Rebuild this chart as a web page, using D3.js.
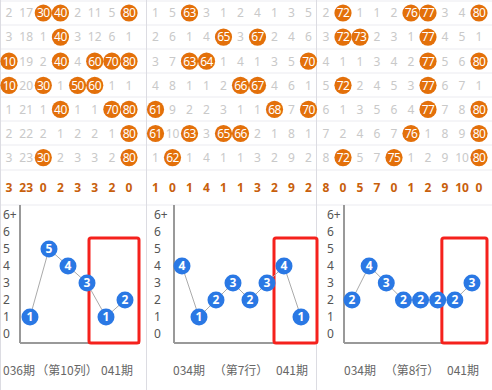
<!DOCTYPE html>
<html>
<head>
<meta charset="utf-8">
<script src="https://cdn.jsdelivr.net/npm/d3@7"></script>
<style>
  body { margin: 0; background: #fff; }
  svg text { font-family: "Noto Sans", "Noto Sans CJK SC", sans-serif; }
</style>
</head>
<body>
<div id="chart"></div>
<script>
// ---- data ----
const p1Grid = [
  [2, 17, 30, 40, 2, 11, 5, 80],
  [3, 18, 1, 40, 3, 12, 6, 1],
  [10, 19, 2, 40, 4, 60, 70, 80],
  [10, 20, 30, 1, 50, 60, 1, 1],
  [1, 21, 1, 40, 1, 1, 70, 80],
  [2, 22, 2, 1, 2, 2, 1, 80],
  [3, 23, 30, 2, 3, 3, 2, 80]
];
const p1Hits = [[2, 3, 7], [3], [0, 3, 5, 6, 7], [0, 2, 4, 5], [3, 6, 7], [7], [2, 7]];
const p1Omit = [3, 23, 0, 2, 3, 3, 2, 0];

const p2Grid = [
  [1, 5, 63, 3, 1, 2, 4, 1, 3, 5],
  [2, 6, 1, 4, 65, 3, 67, 2, 4, 6],
  [3, 7, 63, 64, 1, 4, 1, 3, 5, 70],
  [4, 8, 1, 1, 2, 66, 67, 4, 6, 1],
  [61, 9, 2, 2, 3, 1, 1, 68, 7, 70],
  [61, 10, 63, 3, 65, 66, 2, 1, 8, 1],
  [1, 62, 1, 4, 1, 1, 3, 2, 9, 2]
];
const p2Hits = [[2], [4, 6], [2, 3, 9], [5, 6], [0, 7, 9], [0, 2, 4, 5], [1]];
const p2Omit = [1, 0, 1, 4, 1, 1, 3, 2, 9, 2];

const p3Grid = [
  [2, 72, 1, 1, 2, 76, 77, 3, 4, 80],
  [3, 72, 73, 2, 3, 1, 77, 4, 5, 1],
  [4, 1, 1, 3, 4, 2, 77, 5, 6, 80],
  [5, 72, 2, 4, 5, 3, 77, 6, 7, 1],
  [6, 1, 3, 5, 6, 4, 77, 7, 8, 80],
  [7, 2, 4, 6, 7, 76, 1, 8, 9, 80],
  [8, 72, 5, 7, 75, 1, 2, 9, 10, 80]
];
const p3Hits = [[1, 5, 6, 9], [1, 2, 6], [6, 9], [1, 6], [6, 9], [5, 9], [1, 4, 9]];
const p3Omit = [8, 0, 5, 7, 0, 1, 2, 9, 10, 0];

// hit counts per draw (last points are boxed)
const p1Series = [1, 5, 4, 3, 1, 2];
const p2Series = [4, 1, 2, 3, 2, 3, 4, 1];
const p3Series = [2, 4, 3, 2, 2, 2, 2, 3];

const p1Labels = ["036期", "（第10列）", "041期"];
const p2Labels = ["034期", "（第7行）", "041期"];
const p3Labels = ["034期", "（第8行）", "041期"];

const yTicks = ["0", "1", "2", "3", "4", "5", "6", "6+"];

// ---- layout ----
const W = 492, H = 390;
const svg = d3.select("#chart").append("svg").attr("width", W).attr("height", H);

const rowY = d3.scaleLinear().domain([0, 6]).range([13, 157.6]);
const sumY = 188;
const y = d3.scaleLinear().domain([0, 7]).range([334, 215]);
const axisY = 343, axisTop = 205;

const panels = [
  { grid: p1Grid, hits: p1Hits, omit: p1Omit, series: p1Series, labels: p1Labels,
    gx: [9, 129], lx: 3, ax: 20, ar: 140, px: [30, 125], padL: 17, padR: 14,
    tx: [3, 67, 133] },
  { grid: p2Grid, hits: p2Hits, omit: p2Omit, series: p2Series, labels: p2Labels,
    gx: [155.5, 308.5], lx: 154, ax: 174, ar: 313, px: [182, 301], padL: 10, padR: 16,
    tx: [173, 241, 308] },
  { grid: p3Grid, hits: p3Hits, omit: p3Omit, series: p3Series, labels: p3Labels,
    gx: [326, 479], lx: 327, ax: 344, ar: 482, px: [352, 472], padL: 13, padR: 15,
    tx: [344, 412, 479] }
];

// grid row separators
[1, 25, 49, 73, 97, 121, 145, 170, 205].forEach(function(yy) {
  svg.append("line")
    .attr("x1", 0).attr("x2", W).attr("y1", yy).attr("y2", yy)
    .attr("stroke", "#ebebf0").attr("stroke-width", 1);
});
// panel dividers
[0.5, 146.5, 316.5].forEach(function(xx) {
  svg.append("line")
    .attr("x1", xx).attr("x2", xx).attr("y1", 0).attr("y2", H)
    .attr("stroke", "#dcdce2").attr("stroke-width", 1);
});

panels.forEach(function(p) {
  const n = p.grid[0].length;
  const gx = d3.scaleLinear().domain([0, n - 1]).range(p.gx);
  const g = svg.append("g");

  // grid cells
  p.grid.forEach(function(row, ri) {
    row.forEach(function(v, ci) {
      const hit = p.hits[ri].indexOf(ci) >= 0;
      if (hit) {
        g.append("circle")
          .attr("cx", gx(ci)).attr("cy", rowY(ri)).attr("r", 8.6)
          .attr("fill", "#e3700a");
      }
      g.append("text")
        .attr("x", gx(ci)).attr("y", rowY(ri))
        .attr("dy", "0.36em")
        .attr("text-anchor", "middle")
        .style("font-size", "12px")
        .style("letter-spacing", hit ? "-0.5px" : "0")
        .attr("fill", hit ? "#fff" : "#c9c9c9")
        .text(v);
    });
  });
  // omission summary row
  p.omit.forEach(function(v, ci) {
    g.append("text")
      .attr("x", gx(ci)).attr("y", sumY)
      .attr("dy", "0.36em")
      .attr("text-anchor", "middle")
      .style("font-size", "12px")
      .style("font-weight", "bold")
      .attr("fill", "#c8600c")
      .text(v);
  });

  // line chart
  const x = d3.scaleLinear().domain([0, p.series.length - 1]).range(p.px);

  // y tick labels
  const yAxis = g.append("g")
    .attr("transform", `translate(${p.lx},0)`)
    .call(d3.axisLeft(y).tickValues(d3.range(8)).tickFormat(function(d) { return yTicks[d]; }).tickSize(0));
  yAxis.select(".domain").remove();
  yAxis.selectAll("text")
    .attr("x", 0).attr("text-anchor", "start")
    .style("font-size", "12px")
    .style("font-family", "'Noto Sans', sans-serif")
    .attr("fill", "#555");

  // axes lines
  g.append("line")
    .attr("x1", p.ax).attr("x2", p.ax).attr("y1", axisTop).attr("y2", axisY)
    .attr("stroke", "#999").attr("stroke-width", 2);
  g.append("line")
    .attr("x1", p.ax).attr("x2", p.ar).attr("y1", axisY).attr("y2", axisY)
    .attr("stroke", "#999").attr("stroke-width", 2);

  // highlight box on last two draws
  const last = p.series.length - 1;
  g.append("rect")
    .attr("x", x(last - 1) - p.padL)
    .attr("y", 238)
    .attr("width", x(last) + p.padR - (x(last - 1) - p.padL))
    .attr("height", axisY - 238)
    .attr("rx", 2)
    .attr("fill", "none")
    .attr("stroke", "#f5211c")
    .attr("stroke-width", 3);

  g.append("path")
    .datum(p.series)
    .attr("fill", "none")
    .attr("stroke", "#aaa")
    .attr("stroke-width", 1)
    .attr("d", d3.line().x(function(d, i) { return x(i); }).y(function(d) { return y(d); }));

  g.selectAll("circle.pt")
    .data(p.series)
    .join("circle")
      .attr("class", "pt")
      .attr("cx", function(d, i) { return x(i); })
      .attr("cy", function(d) { return y(d); })
      .attr("r", 8.5)
      .attr("fill", "#2a78e4");
  g.selectAll("text.pt")
    .data(p.series)
    .join("text")
      .attr("class", "pt")
      .attr("x", function(d, i) { return x(i); })
      .attr("y", function(d) { return y(d); })
      .attr("dy", "0.36em")
      .attr("text-anchor", "middle")
      .style("font-size", "12px")
      .style("font-weight", "bold")
      .attr("fill", "#fff")
      .text(function(d) { return d; });

  // bottom labels
  const anchors = ["start", "middle", "end"];
  p.labels.forEach(function(t, i) {
    g.append("text")
      .attr("x", p.tx[i]).attr("y", 371)
      .attr("dy", "0.36em")
      .attr("text-anchor", anchors[i])
      .style("font-size", "12px")
      .style("font-family", "'Noto Sans CJK SC', sans-serif")
      .attr("fill", "#666")
      .text(t);
  });
});
</script>
</body>
</html>
